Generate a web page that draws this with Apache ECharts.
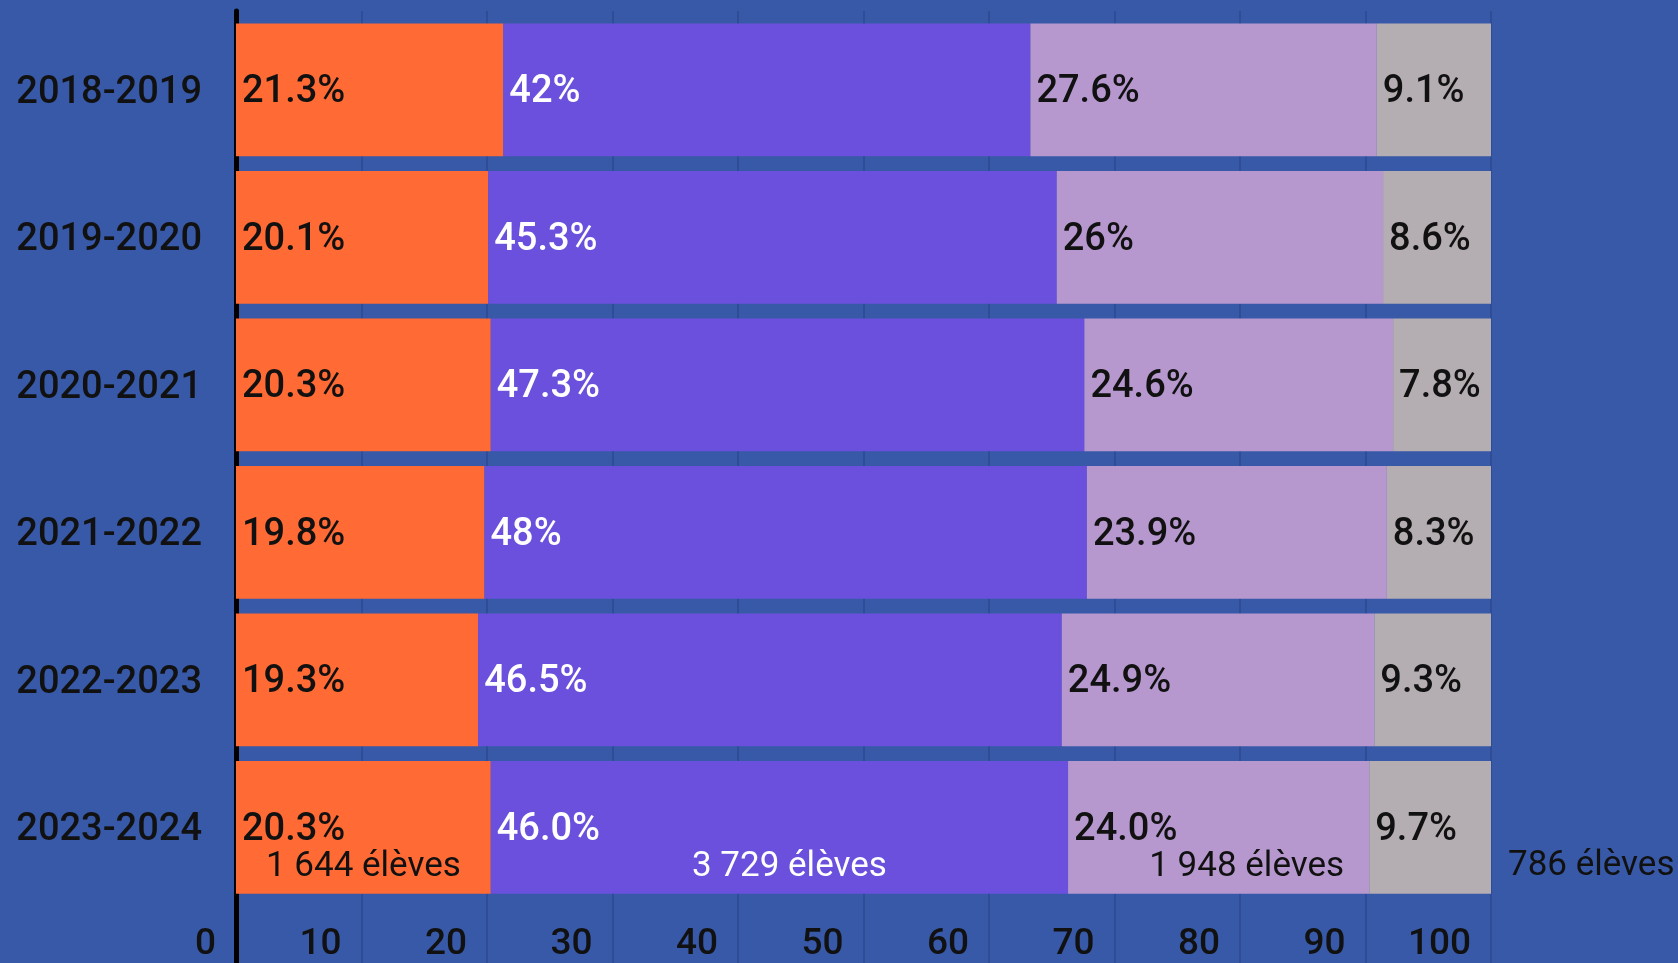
<!DOCTYPE html>
<html><head><meta charset="utf-8">
<script src="https://cdn.jsdelivr.net/npm/echarts@6/dist/echarts.min.js"></script>
<style>html,body{margin:0;padding:0;background:#3859a7;}#c{width:1678px;height:963px;}</style>
</head><body><div id="c"></div>
<script>
const categories = ['2018-2019','2019-2020','2020-2021','2021-2022','2022-2023','2023-2024'];
const seriesA = [21.3, 20.1, 20.3, 19.8, 19.3, 20.3];
const seriesB = [42, 45.3, 47.3, 48, 46.5, 46.0];
const seriesC = [27.6, 26, 24.6, 23.9, 24.9, 24.0];
const seriesD = [9.1, 8.6, 7.8, 8.3, 9.3, 9.7];
const lastYearCounts = [1644, 3729, 1948, 786];
const xTickLabels = ['0','10','20','30','40','50','60','70','80','90','100'];

const colors = ['#ff6a35', '#6a50dc', '#b698cf', '#b4adb1'];
const labelColors = ['#111', '#fff', '#111', '#111'];
const all = [seriesA, seriesB, seriesC, seriesD];
const lastIdx = categories.length - 1;

function fmtPct(v, i) { return (i === lastIdx ? v.toFixed(1) : String(v)) + '%'; }
function fmtCount(n) { return String(n).replace(/\B(?=(\d{3})+(?!\d))/g, ' ') + ' élèves'; }

const font = 'Roboto';
const series = [];
all.forEach((arr, k) => {
  series.push({
    type: 'bar', stack: 'pct', xAxisIndex: 0, yAxisIndex: 0,
    barCategoryGap: '10%', barGap: '-100%',
    data: arr,
    itemStyle: { color: colors[k] },
    label: {
      show: true, position: 'insideLeft', distance: 6, offset: [0, 3],
      fontFamily: font, fontSize: 38, fontWeight: 500, color: labelColors[k],
      formatter: p => fmtPct(p.value, p.dataIndex)
    },
    silent: true
  });
});
const countOffsets = [[0, 0], [10, 0], [28, 0], [0, 39]];
all.forEach((arr, k) => {
  const isLast = k === all.length - 1;
  series.push({
    type: 'bar', stack: 'cnt', xAxisIndex: 0, yAxisIndex: 0,
    barCategoryGap: '10%', barGap: '-100%',
    data: arr.map((v, i) => i === lastIdx ? v : '-'),
    itemStyle: { color: 'rgba(0,0,0,0)' },
    label: {
      show: true,
      position: isLast ? 'right' : 'insideBottom',
      distance: isLast ? 17 : 9,
      offset: countOffsets[k],
      fontFamily: font, fontSize: 35, color: labelColors[k],
      formatter: () => fmtCount(lastYearCounts[k])
    },
    silent: true, z: 3
  });
});

const option = {
  backgroundColor: '#3859a7',
  animation: false,
  grid: [
    { left: 236, right: 187, top: 16, bottom: 62 },
    { left: 236, right: 187, top: 11, bottom: 0 }
  ],
  xAxis: [
    { type: 'value', gridIndex: 0, min: 0, max: 100, show: false },
    { type: 'value', gridIndex: 1, min: 0, max: 100, interval: 10,
      axisLine: { show: false }, axisTick: { show: false },
      splitLine: { show: true, lineStyle: { color: '#2e4d96', width: 2 } },
      axisLabel: { inside: true, margin: 0, align: 'right', padding: [0, 20, 0, 0],
        fontFamily: font, fontSize: 37, fontWeight: 500, color: '#111',
        formatter: v => xTickLabels[Math.round(v / 10)] } }
  ],
  yAxis: [
    { type: 'category', gridIndex: 0, data: categories, inverse: true,
      axisLine: { show: false }, axisTick: { show: false },
      axisLabel: { margin: 34, verticalAlign: 'top', lineHeight: 7,
        fontFamily: font, fontSize: 38, fontWeight: 500, color: '#111' } },
    { type: 'value', gridIndex: 1, min: 0, max: 1, offset: 4,
      axisLine: { show: true, lineStyle: { color: '#000', width: 5 } },
      axisTick: { show: false }, axisLabel: { show: false }, splitLine: { show: false } }
  ],
  series: series
};
const chart = echarts.init(document.getElementById('c'), null, { renderer: 'canvas' });
chart.setOption(option);
</script></body></html>
